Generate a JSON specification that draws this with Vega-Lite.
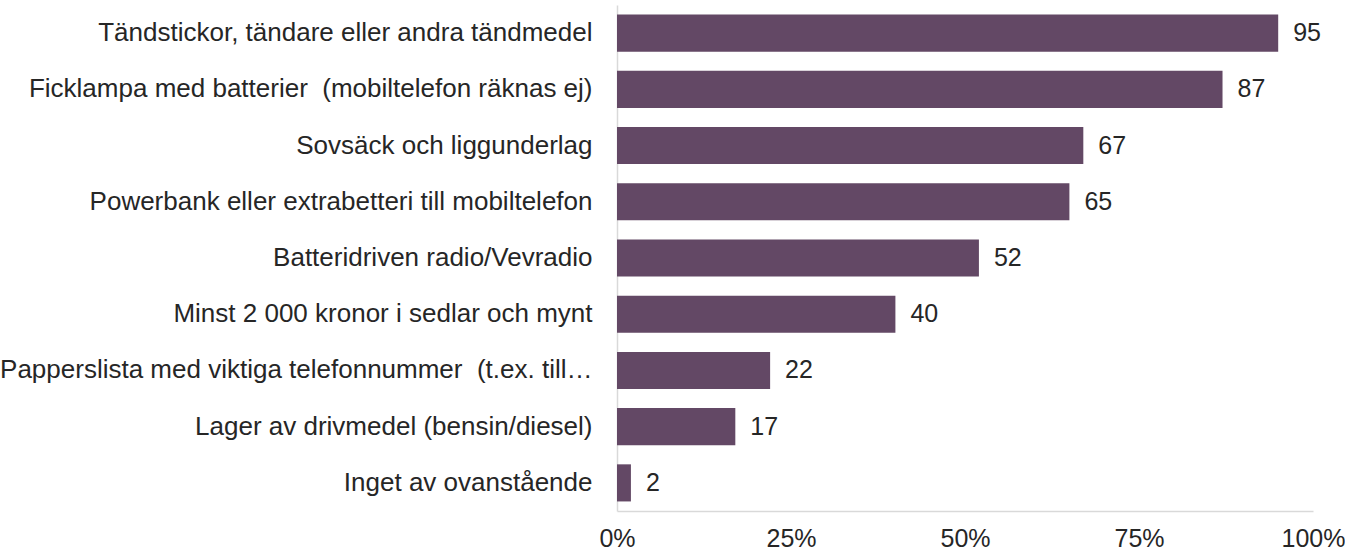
{
  "$schema": "https://vega.github.io/schema/vega-lite/v6.json",
  "width": 696,
  "height": 506,
  "autosize": {"type": "none"},
  "padding": {"left": 617, "top": 5, "right": 32, "bottom": 45},
  "background": "white",
  "config": {
    "view": {"stroke": null},
    "font": "Liberation Sans",
    "axis": {"labelFont": "Liberation Sans", "labelColor": "#262626"}
  },
  "data": {
    "values": [
      {"item": "Tändstickor, tändare eller andra tändmedel", "value": 95},
      {"item": "Ficklampa med batterier \u00a0(mobiltelefon räknas ej)", "value": 87},
      {"item": "Sovsäck och liggunderlag", "value": 67},
      {"item": "Powerbank eller extrabetteri till mobiltelefon", "value": 65},
      {"item": "Batteridriven radio/Vevradio", "value": 52},
      {"item": "Minst 2 000 kronor i sedlar och mynt", "value": 40},
      {"item": "Papperslista med viktiga telefonnummer \u00a0(t.ex. till…", "value": 22},
      {"item": "Lager av drivmedel (bensin/diesel)", "value": 17},
      {"item": "Inget av ovanstående", "value": 2}
    ]
  },
  "encoding": {
    "y": {
      "field": "item",
      "type": "nominal",
      "sort": null,
      "title": null,
      "scale": {"paddingInner": 0.34, "paddingOuter": 0.17},
      "axis": {
        "ticks": false,
        "domainColor": "#d9d9d9",
        "domainWidth": 1.5,
        "labelPadding": 25,
        "labelLimit": 800,
        "labelFontSize": 26
      }
    },
    "x": {
      "field": "value",
      "type": "quantitative",
      "title": null,
      "scale": {"domain": [0, 100], "nice": false},
      "axis": {
        "values": [0, 25, 50, 75, 100],
        "labelExpr": "datum.value + '%'",
        "grid": false,
        "ticks": false,
        "domainColor": "#d9d9d9",
        "domainWidth": 1.5,
        "labelPadding": 15,
        "labelFontSize": 25,
        "labelFlush": false
      }
    }
  },
  "layer": [
    {"mark": {"type": "bar", "color": "#634865"}},
    {
      "mark": {"type": "text", "align": "left", "dx": 15, "fontSize": 25, "color": "#262626", "font": "Liberation Sans"},
      "encoding": {"text": {"field": "value", "type": "quantitative"}}
    }
  ]
}
